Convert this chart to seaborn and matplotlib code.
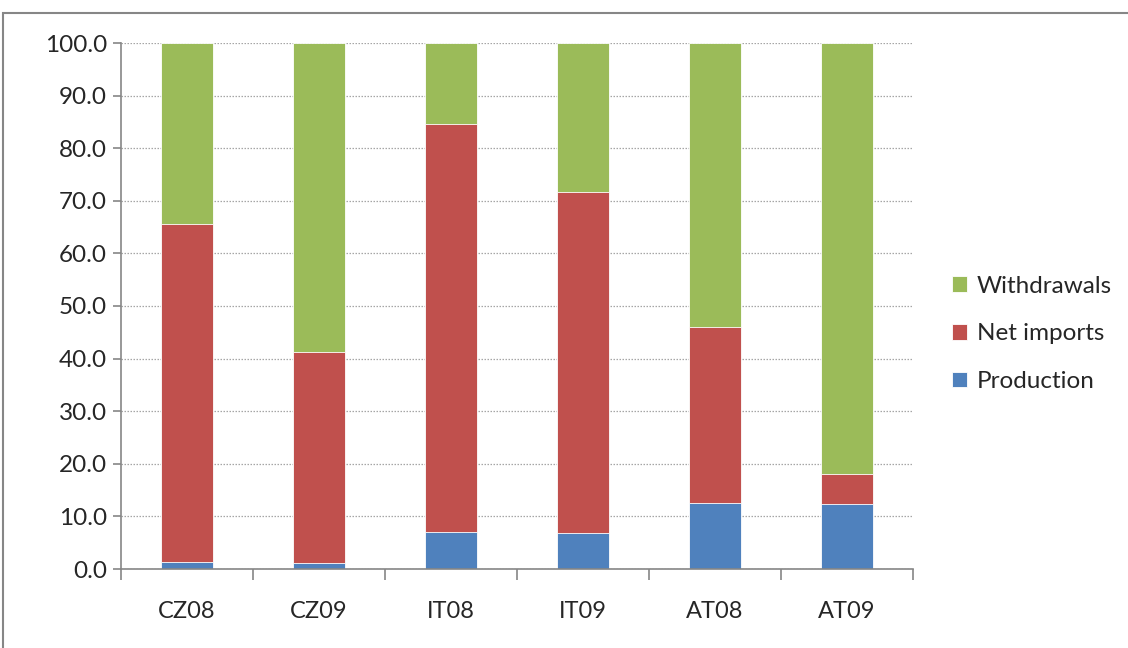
import numpy as np
import pandas as pd
import matplotlib
matplotlib.use("Agg")
import matplotlib.pyplot as plt
import seaborn as sns
from matplotlib.patches import Rectangle
from matplotlib.ticker import FormatStrFormatter, FixedLocator

categories = ["CZ08", "CZ09", "IT08", "IT09", "AT08", "AT09"]
production = [1.3, 1.1, 7.0, 6.8, 12.5, 12.4]
net_imports = [64.3, 40.2, 77.6, 64.8, 33.6, 5.7]
withdrawals = [34.4, 58.7, 15.4, 28.4, 53.9, 81.9]

series_names = ["Production", "Net imports", "Withdrawals"]
colors = {"Production": "#4F81BD", "Net imports": "#C0504D", "Withdrawals": "#9BBB59"}

sns.set_theme(style="white")
plt.rcParams["font.family"] = ["Lato", "DejaVu Sans"]

df = pd.DataFrame({"cat": categories, "Production": production,
                   "Net imports": net_imports, "Withdrawals": withdrawals})
# cumulative tops, drawn from the back (tallest first)
df["cum_prod"] = df["Production"]
df["cum_net"] = df["Production"] + df["Net imports"]
df["cum_all"] = df["cum_net"] + df["Withdrawals"]

fig = plt.figure(figsize=(11.28, 6.48), dpi=100)
ax = fig.add_axes([121 / 1128, 1 - 569 / 648, (913 - 121) / 1128, (569 - 43) / 648])

for col, name in [("cum_all", "Withdrawals"), ("cum_net", "Net imports"), ("cum_prod", "Production")]:
    sns.barplot(data=df, x="cat", y=col, color=colors[name], saturation=1,
                width=0.4, edgecolor="white", linewidth=0.6, ax=ax, label=name)

ax.set_xlim(-0.5, 5.5)
ax.set_ylim(0, 100)
ax.set_yticks(np.arange(0, 101, 10))
ax.yaxis.set_major_formatter(FormatStrFormatter("%.1f"))
ax.grid(axis="y", color="#A6A6A6", linestyle=(0, (1.2, 1.2)), linewidth=0.9)
ax.set_axisbelow(True)
ax.set_xlabel("")
ax.set_ylabel("")

for s in ["top", "right"]:
    ax.spines[s].set_visible(False)
for s in ["left", "bottom"]:
    ax.spines[s].set_color("#868686")
    ax.spines[s].set_linewidth(1.2)

ax.tick_params(axis="y", which="major", direction="out", length=6, width=1.2,
               color="#868686", labelsize=17.5, pad=4, left=True)
# x: labels at category centres, tick marks at boundaries
ax.set_xticks(range(len(categories)))
ax.set_xticklabels(categories)
ax.tick_params(axis="x", which="major", length=0, labelsize=17, pad=23)
ax.xaxis.set_minor_locator(FixedLocator(np.arange(-0.5, 6.0, 1.0)))
ax.tick_params(axis="x", which="minor", direction="out", length=8, width=1.2,
               color="#868686", bottom=True)

handles, labels = ax.get_legend_handles_labels()
order = ["Withdrawals", "Net imports", "Production"]
hmap = dict(zip(labels, handles))
leg = ax.legend([hmap[n] for n in order], order, loc="center left",
                bbox_to_anchor=(1.022, 0.447), frameon=False, fontsize=17.5,
                handlelength=0.6, handleheight=0.6, handletextpad=0.4,
                labelspacing=1.1)

fig.add_artist(Rectangle((3 / 1128, -0.1), 2.0, 1 - 13 / 648 + 0.1,
                         transform=fig.transFigure, fill=False,
                         edgecolor="#868686", linewidth=1.5))

fig.savefig("out.png", dpi=100)
